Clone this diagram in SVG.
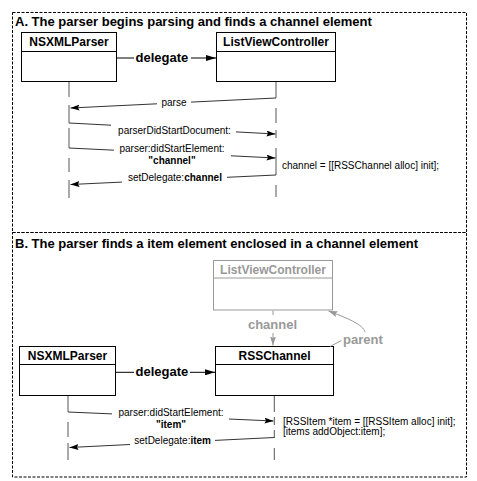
<svg xmlns="http://www.w3.org/2000/svg" width="477" height="481" viewBox="0 0 477 481">
<style>
text{font-family:"Liberation Sans",Arial,Helvetica,sans-serif;fill:#000}
.panel{fill:none;stroke:#000;stroke-width:1;stroke-dasharray:3,1.5}
.title{font-size:13px;font-weight:bold}
.box{fill:#fff;stroke:#000;stroke-width:1}
.gbox{fill:#fff;stroke:#999;stroke-width:1}
.lbl{font-size:12px;font-weight:bold;text-anchor:middle}
.glbl{font-size:12px;font-weight:bold;text-anchor:middle;fill:#999}
.del{font-size:13px;font-weight:bold}
.gtxt{font-size:13px;font-weight:bold;fill:#999}
.msg{font-size:10px}
.mid{text-anchor:middle}
.b{font-weight:bold}
.life{stroke:#555;stroke-width:1;fill:none}
.ml{stroke:#333;stroke-width:1;fill:none}
.dl{stroke:#000;stroke-width:1;fill:none}
.gl{stroke:#999;stroke-width:1;fill:none}
</style>
<defs>
<marker id="ah" viewBox="0 0 9 6" refX="9" refY="3" markerWidth="9" markerHeight="6" markerUnits="userSpaceOnUse" orient="auto"><path d="M0,0 L9,3 L0,6 L1.5,3 z" fill="#000"/></marker>
<marker id="dh" viewBox="0 0 10 6" refX="10" refY="3" markerWidth="10" markerHeight="6" markerUnits="userSpaceOnUse" orient="auto"><path d="M0,0 L10,3 L0,6 z" fill="#000"/></marker>
<marker id="gh" viewBox="0 0 9 6" refX="9" refY="3" markerWidth="9" markerHeight="6" markerUnits="userSpaceOnUse" orient="auto"><path d="M0,0 L9,3 L0,6 L1.5,3 z" fill="#999"/></marker>
</defs>
<rect width="477" height="481" fill="#fff"/>
<g id="panelA">
<rect class="panel" x="12.5" y="12.5" width="454" height="220"/>
<text class="title" x="15" y="25.5">A. The parser begins parsing and finds a channel element</text>
</g>
<g id="panelB">
<rect class="panel" x="12.5" y="232.5" width="454" height="244.5"/>
<text class="title" x="15" y="247.5">B. The parser finds a item element enclosed in a channel element</text>
</g>
<g id="nsxmlA">
<rect class="box" x="21.5" y="32.5" width="95" height="49"/>
<line class="dl" x1="21.5" y1="51.5" x2="116.5" y2="51.5"/>
<text class="lbl" x="69" y="45.5">NSXMLParser</text>
</g>
<g id="listviewA">
<rect class="box" x="216.5" y="32.5" width="119" height="49"/>
<line class="dl" x1="216.5" y1="51.5" x2="335.5" y2="51.5"/>
<text class="lbl" x="276" y="45.5">ListViewController</text>
</g>
<g id="listviewB">
<rect class="gbox" x="213.5" y="260.5" width="119" height="49.5"/>
<line class="gl" x1="213.5" y1="278" x2="332.5" y2="278"/>
<text class="glbl" x="273" y="273.5">ListViewController</text>
</g>
<g id="nsxmlB">
<rect class="box" x="19.5" y="346.5" width="96" height="49"/>
<line class="dl" x1="19.5" y1="364.5" x2="115.5" y2="364.5"/>
<text class="lbl" x="67.5" y="359.5">NSXMLParser</text>
</g>
<g id="rsschannelB">
<rect class="box" x="215.5" y="346.5" width="118" height="49"/>
<line class="dl" x1="215.5" y1="364.5" x2="333.5" y2="364.5"/>
<text class="lbl" x="274.5" y="359.5">RSSChannel</text>
</g>
<g id="connectors">
<!-- lifelines A -->
<path class="life" d="M69,82 V97 M69,105 V123 M69,128 V148 M69,158 V172 M69,180 V198"/>
<path class="life" d="M276,82 V98 M276,108 V123 M276,130 V138 M276,148 V175 M276,185 V197"/>
<!-- lifelines B -->
<path class="life" d="M68,396 V412 M68,422 V437 M68,443 V460"/>
<path class="life" d="M274.3,396 V412 M274.3,417 V425 M274.3,430 V438 M274.3,448 V460"/>
<!-- delegate A -->
<line class="dl" x1="116.5" y1="58" x2="134" y2="58"/>
<line class="dl" x1="191" y1="58" x2="216" y2="58" marker-end="url(#dh)"/>
<text class="del" x="135.5" y="62">delegate</text>
<!-- messages A -->
<line class="ml" x1="276" y1="98" x2="191" y2="102.1"/>
<line class="ml" x1="157" y1="103.8" x2="70.5" y2="108" marker-end="url(#ah)"/>
<text class="msg mid" x="174" y="106">parse</text>
<line class="ml" x1="69" y1="123" x2="111" y2="125.2"/>
<line class="ml" x1="236" y1="131.9" x2="275.5" y2="134" marker-end="url(#ah)"/>
<text class="msg mid" x="174.5" y="133.5">parserDidStartDocument:</text>
<line class="ml" x1="69" y1="148" x2="114" y2="150.2"/>
<line class="ml" x1="231" y1="155.8" x2="275.5" y2="158" marker-end="url(#ah)"/>
<text class="msg mid" x="172" y="151.5">parser:didStartElement:</text>
<text class="msg mid b" x="172" y="164">"channel"</text>
<line class="ml" x1="276" y1="175" x2="227" y2="177.3"/>
<line class="ml" x1="122" y1="182.1" x2="70.5" y2="184.5" marker-end="url(#ah)"/>
<text class="msg" x="128" y="181">setDelegate:<tspan class="b">channel</tspan></text>
<text class="msg" x="282" y="169">channel = [[RSSChannel alloc] init];</text>
<!-- gray connectors B -->
<line class="gl" x1="273" y1="310.5" x2="273" y2="315"/>
<line class="gl" x1="273" y1="333" x2="273" y2="345.5" marker-end="url(#gh)"/>
<text class="gtxt mid" x="272.5" y="329">channel</text>
<line class="gl" x1="330" y1="346.5" x2="341.5" y2="340.5"/>
<path class="gl" d="M365,332 C364,325 345,317 328.5,311" marker-end="url(#gh)"/>
<text class="gtxt" x="343" y="343.5">parent</text>
<!-- delegate B -->
<line class="dl" x1="115.5" y1="372.3" x2="134" y2="372.3"/>
<line class="dl" x1="190" y1="372.3" x2="215" y2="372.3" marker-end="url(#dh)"/>
<text class="del" x="135.5" y="376">delegate</text>
<!-- messages B -->
<line class="ml" x1="68" y1="412" x2="112" y2="413.9"/>
<line class="ml" x1="229" y1="419" x2="273.5" y2="421" marker-end="url(#ah)"/>
<text class="msg mid" x="171" y="415.5">parser:didStartElement:</text>
<text class="msg mid b" x="171" y="427.5">"item"</text>
<line class="ml" x1="274.3" y1="437.5" x2="215" y2="440.4"/>
<line class="ml" x1="130" y1="444.5" x2="69.5" y2="447.5" marker-end="url(#ah)"/>
<text class="msg" x="134.3" y="444">setDelegate:<tspan class="b">item</tspan></text>
<text class="msg" x="283" y="424.5">[RSSItem *item = [[RSSItem alloc] init];</text>
<text class="msg" x="283" y="434.5">[items addObject:item];</text>
</g>
</svg>
